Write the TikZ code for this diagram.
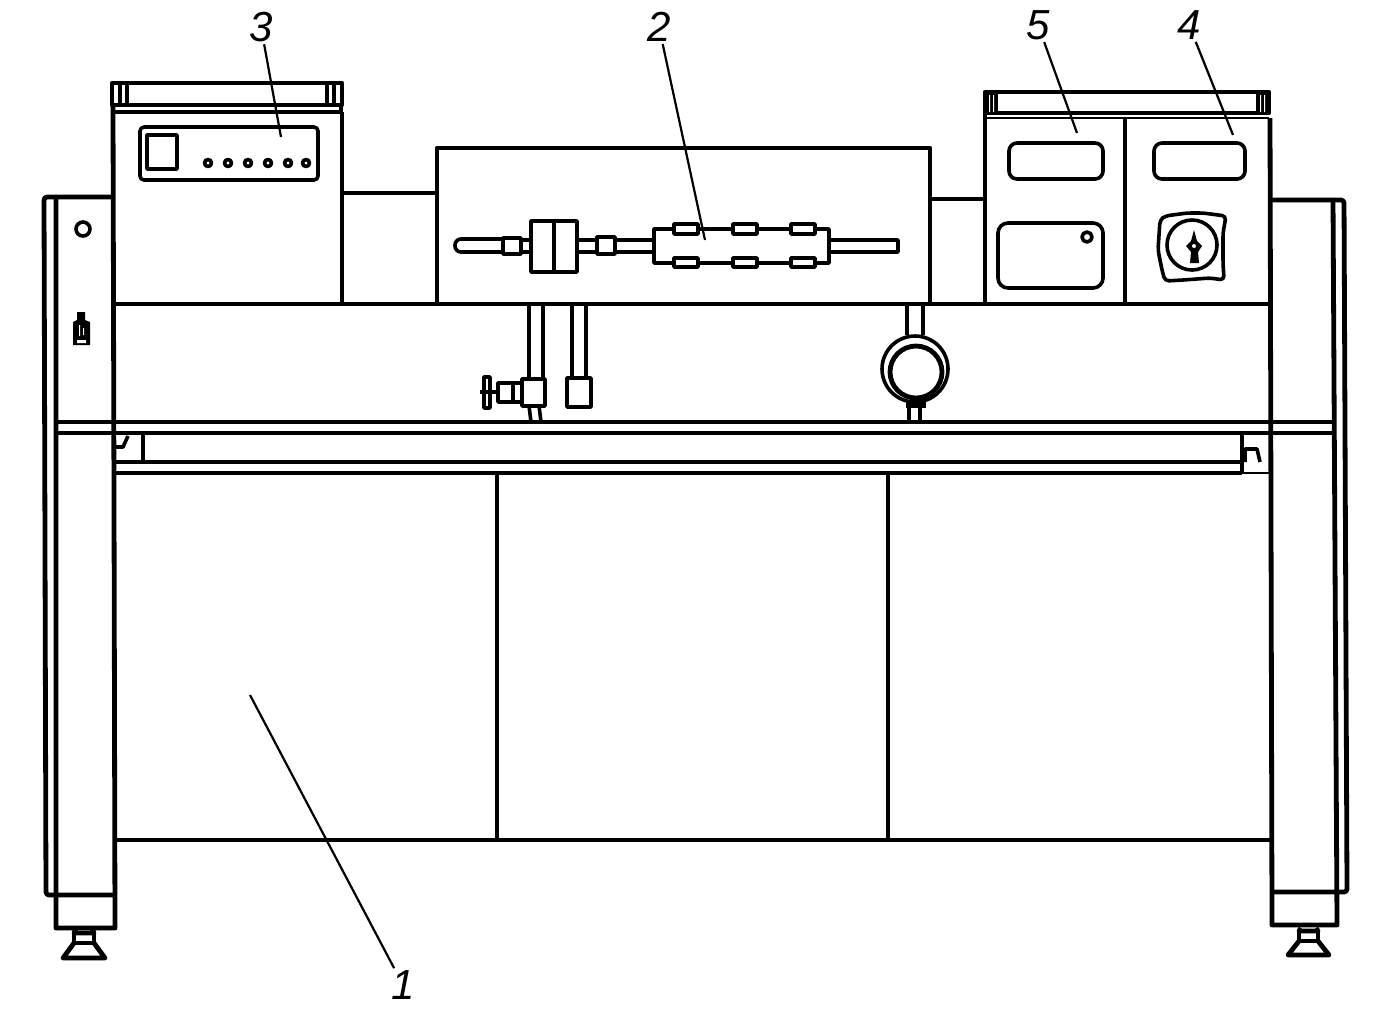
\documentclass[tikz,border=0pt]{standalone}
\usepackage{fontspec}
\setmainfont{Liberation Sans}
\begin{document}
\begin{tikzpicture}[x=0.5pt,y=-0.5pt,line join=round,
    heavy/.style={line width=2.4pt},
    medium/.style={line width=1.8pt},
    fine/.style={line width=1.2pt},
    tag/.style={font=\itshape\fontsize{21}{21}\selectfont,inner sep=1pt},
    leader/.style={line width=1.1pt}]
    \useasboundingbox (0,0) rectangle (1384,1025);
    % legs
    \draw[heavy] (56,197) -- (56,928) -- (115,928) -- (114,500) -- (113,105);
    \draw[heavy,rounded corners=1.5pt] (112,197) -- (44,197) -- (46,895) -- (115,895);
    \draw[heavy] (1270,118) -- (1272,925) -- (1337,925) -- (1333,200);
    \draw[heavy,rounded corners=1.5pt] (1270,200) -- (1344,200) -- (1347,892) -- (1272,892);
    \foreach \xa/\xb/\ya/\yb/\yc in {74/94/933/943/958,1299/1318/931/941/955} {
        \draw[heavy] (\xa+2,928) -- (\xa,\ya) -- (\xb,\ya) -- (\xb-2,928);
        \draw[heavy] (\xa,\ya) -- (\xa,\yb) -- (\xb,\yb) -- (\xb,\ya);
        \draw[heavy] (\xa,\yb) -- (\xa-11,\yc) -- (\xb+11,\yc) -- (\xb,\yb);
    }
    \draw[medium] (83,229) circle (7);
    \fill (73,322) -- (77,320) -- (77,312) -- (85,312) -- (85,320) -- (90,322) -- (90,345) -- (73,345) -- cycle;
    \fill[white] (77,340) rectangle (86,343) (79,325) rectangle (80,336) (83,328) rectangle (84,335);
    % frame
    \draw[heavy] (113,304) -- (1270,304);
    \draw[medium] (56,422) -- (1333,422);
    \draw[heavy] (56,433) -- (1333,433);
    \draw[heavy] (115,462) -- (1242,462);
    \draw[medium] (115,473) -- (1242,473);
    \draw[fine] (1242,473) -- (1270,473);
    \draw[heavy] (143,433) -- (143,462);
    \draw[heavy] (1242,433) -- (1242,473);
    \draw[medium] (115,447) -- (123,447) -- (128,436);
    \draw[medium] (1245,462) -- (1245,449) -- (1257,449) -- (1260,462);
    \draw[heavy] (115,840) -- (1270,840);
    \draw[heavy] (497,473) -- (497,840);
    \draw[heavy] (888,473) -- (888,840);
    % box 3
    \draw[heavy] (112,83) rectangle (342,105);
    \draw[heavy] (113,105) -- (113,112) (341,105) -- (341,112);
    \draw[medium] (113,112) -- (342,112);
    \draw[heavy] (120,83) -- (120,105) (127,83) -- (127,105) (327,83) -- (327,105) (334,83) -- (334,105);
    \draw[heavy] (342,112) -- (342,304);
    \draw[medium,rounded corners=2pt] (140,127) rectangle (318,180);
    \draw[medium] (147,135) rectangle (177,169);
    \foreach \dotx in {208,228,248,268,288,306}
        \draw[medium] (\dotx,163) circle (3.5);
    \draw[heavy] (342,193) -- (437,193);
    % box 2
    \draw[heavy] (437,304) -- (437,148) -- (930,148) -- (930,304);
    \draw[medium,rounded corners=3pt] (503,239) -- (455,239) -- (455,252) -- (503,252);
    \draw[medium] (503,238) rectangle (521,254);
    \draw[medium] (521,240) rectangle (531,252);
    \draw[medium] (531,221) rectangle (577,272);
    \draw[medium] (554,221) -- (554,272);
    \draw[medium] (577,240) rectangle (597,252);
    \draw[medium] (597,237) rectangle (615,254);
    \draw[medium] (615,240) rectangle (654,252);
    \draw[medium] (654,229) rectangle (829,263);
    \draw[medium] (829,240) -- (898,240) -- (898,252) -- (829,252);
    \foreach \clipx in {674,733,791} {
        \draw[medium,fill=white] (\clipx,224) rectangle ++(24,10);
        \draw[medium,fill=white] (\clipx,258) rectangle ++(24,9);
    }
    % pipes and valve
    \draw[medium] (529,304) -- (529,379) (543,304) -- (543,379);
    \draw[medium] (572,304) -- (572,378) (586,304) -- (586,378);
    \draw[medium] (522,379) rectangle (545,406);
    \draw[medium] (567,378) rectangle (591,407);
    \draw[medium] (529,406) -- (531,422) (539,406) -- (541,422);
    \draw[medium] (498,383) rectangle (522,402);
    \draw[medium] (513,383) -- (513,402);
    \draw[medium] (484,377) rectangle (490,408);
    \draw[medium] (480,392) -- (498,392);
    % gauge
    \draw[medium] (907,304) -- (907,335) (923,304) -- (923,335);
    \draw[medium] (909,405) -- (909,422) (920,405) -- (920,422);
    \fill (906,401) rectangle (926,408);
    \draw[medium] (915,369) circle (33);
    \draw[heavy] (916,372) circle (26);
    % box 5 and 4
    \draw[heavy] (985,92) rectangle (1269,113);
    \draw[fine] (985,118) -- (1269,118);
    \fill (985,92) rectangle (998,113);
    \fill (1256,92) rectangle (1269,113);
    \fill[white] (989,95) rectangle (990,112) (993,95) rectangle (994,112) (1260,95) rectangle (1261,112) (1264,95) rectangle (1265,112);
    \draw[heavy] (985,113) -- (985,304);
    \draw[heavy] (1125,118) -- (1125,304);
    \draw[heavy] (930,199) -- (985,199);
    \draw[medium,rounded corners=4pt] (1009,143) rectangle (1103,179);
    \draw[medium,rounded corners=4pt] (1154,143) rectangle (1245,179);
    \draw[medium,rounded corners=5pt] (998,223) rectangle (1103,288);
    \draw[medium] (1087,237) circle (5);
    \draw[medium] (1192,245) circle (25);
    \draw[medium,rounded corners=2pt] (1158,250) -- (1160,220) -- (1165,216) -- (1187,213) -- (1203,213) -- (1226,216) -- (1223,233) -- (1223,263) -- (1224,280) -- (1210,278) -- (1183,280) -- (1165,281) -- (1162,270) -- cycle;
    \fill (1194,230) -- (1197,241) -- (1202,246) -- (1198,252) -- (1199,263) -- (1190,263) -- (1191,252) -- (1186,246) -- (1191,241) -- cycle;
    \fill[white] (1194,246) circle (2);
    % numbers
    \node[tag] (n3) at (261,27) {3};
    \node[tag] (n2) at (659,27) {2};
    \node[tag] (n5) at (1038,25) {5};
    \node[tag] (n4) at (1189,25) {4};
    \node[tag] (n1) at (403,985) {1};
    \coordinate (p3) at (281,137);
    \coordinate (p2) at (705,240);
    \coordinate (p5) at (1077,133);
    \coordinate (p4) at (1233,135);
    \coordinate (p1) at (250,695);
    \draw[leader] (n3) -- (p3);
    \draw[leader] (n2) -- (p2);
    \draw[leader] (n5) -- (p5);
    \draw[leader] (n4) -- (p4);
    \draw[leader] (n1) -- (p1);
\end{tikzpicture}
\end{document}
